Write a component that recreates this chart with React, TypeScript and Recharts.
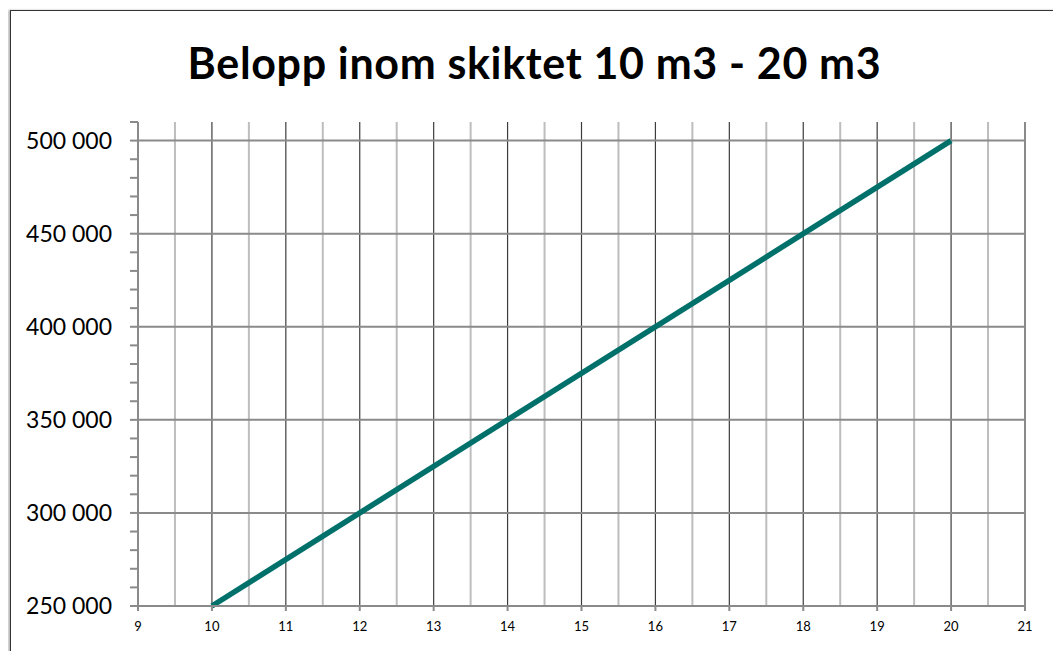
import {
  LineChart,
  Line,
  XAxis,
  YAxis,
  ReferenceLine,
} from "recharts";

const title = "Belopp inom skiktet 10 m3 - 20 m3";

// series: amount at the start and the end of the bracket
const volumes = [10, 20];
const amounts = [250000, 500000];

const xTicks = [9, 10, 11, 12, 13, 14, 15, 16, 17, 18, 19, 20, 21];
const xMinor = [9.5, 10.5, 11.5, 12.5, 13.5, 14.5, 15.5, 16.5, 17.5, 18.5, 19.5, 20.5];
const yMajor = [300000, 350000, 400000, 450000, 500000];
const yTicks = [
  250000, 260000, 270000, 280000, 290000, 300000, 310000, 320000, 330000,
  340000, 350000, 360000, 370000, 380000, 390000, 400000, 410000, 420000,
  430000, 440000, 450000, 460000, 470000, 480000, 490000, 500000, 510000,
];

const data = volumes.map((v, i) => ({ m3: v, amount: amounts[i] }));

const font = "Lato, 'Noto Sans', sans-serif";
const axisGray = "#8a8a8a";

const formatAmount = (v: number) =>
  v % 50000 === 0 && v <= 500000
    ? String(v).replace(/\B(?=(\d{3})+(?!\d))/g, " ")
    : "";

export default function App() {
  return (
    <div
      style={{
        position: "relative",
        width: 1053,
        height: 643,
        overflow: "hidden",
        fontFamily: font,
      }}
    >
      <div
        style={{
          position: "absolute",
          left: 2,
          top: 2,
          width: 1100,
          height: 700,
          borderLeft: "1px solid #333",
          borderTop: "1px solid #333",
          boxShadow: "-2px 0 2px #bbb",
        }}
      />
      <div
        style={{
          position: "absolute",
          left: 0,
          top: 30,
          width: 1053,
          textAlign: "center",
          fontSize: 43,
          letterSpacing: 0.65,
          fontWeight: "bold",
          lineHeight: "50px",
          color: "#000",
        }}
      >
        {title}
      </div>
      <LineChart
        width={1053}
        height={643}
        data={data}
        margin={{ top: 114, right: 36, left: 0, bottom: 15 }}
        style={{ position: "absolute", left: 0, top: 0 }}
      >
        {xMinor.map((x) => (
          <ReferenceLine key={"m" + x} x={x} stroke="#bdbdbd" strokeWidth={2} />
        ))}
        {xTicks.slice(1).map((x) => (
          <ReferenceLine key={"M" + x} x={x} stroke="#3c3c3c" strokeWidth={1.2} />
        ))}
        {yMajor.map((y) => (
          <ReferenceLine key={"y" + y} y={y} stroke={axisGray} strokeWidth={2} />
        ))}
        <XAxis
          type="number"
          dataKey="m3"
          domain={[9, 21]}
          ticks={xTicks}
          interval={0}
          height={30}
          tickSize={5}
          tickMargin={11}
          axisLine={{ stroke: axisGray, strokeWidth: 2 }}
          tickLine={{ stroke: axisGray, strokeWidth: 2 }}
          tick={{ fill: "#000", fontSize: 13, fontFamily: font }}
        />
        <YAxis
          type="number"
          domain={[250000, 510000]}
          ticks={yTicks}
          interval={0}
          width={130}
          tickSize={8}
          tickMargin={18}
          tickFormatter={formatAmount}
          axisLine={{ stroke: axisGray, strokeWidth: 2 }}
          tickLine={{ stroke: axisGray, strokeWidth: 2 }}
          tick={{ fill: "#000", fontSize: 23, fontFamily: font }}
        />
        <Line
          type="linear"
          dataKey="amount"
          stroke="#00706b"
          strokeWidth={5.5}
          dot={false}
          activeDot={false}
          isAnimationActive={false}
        />
      </LineChart>
    </div>
  );
}
